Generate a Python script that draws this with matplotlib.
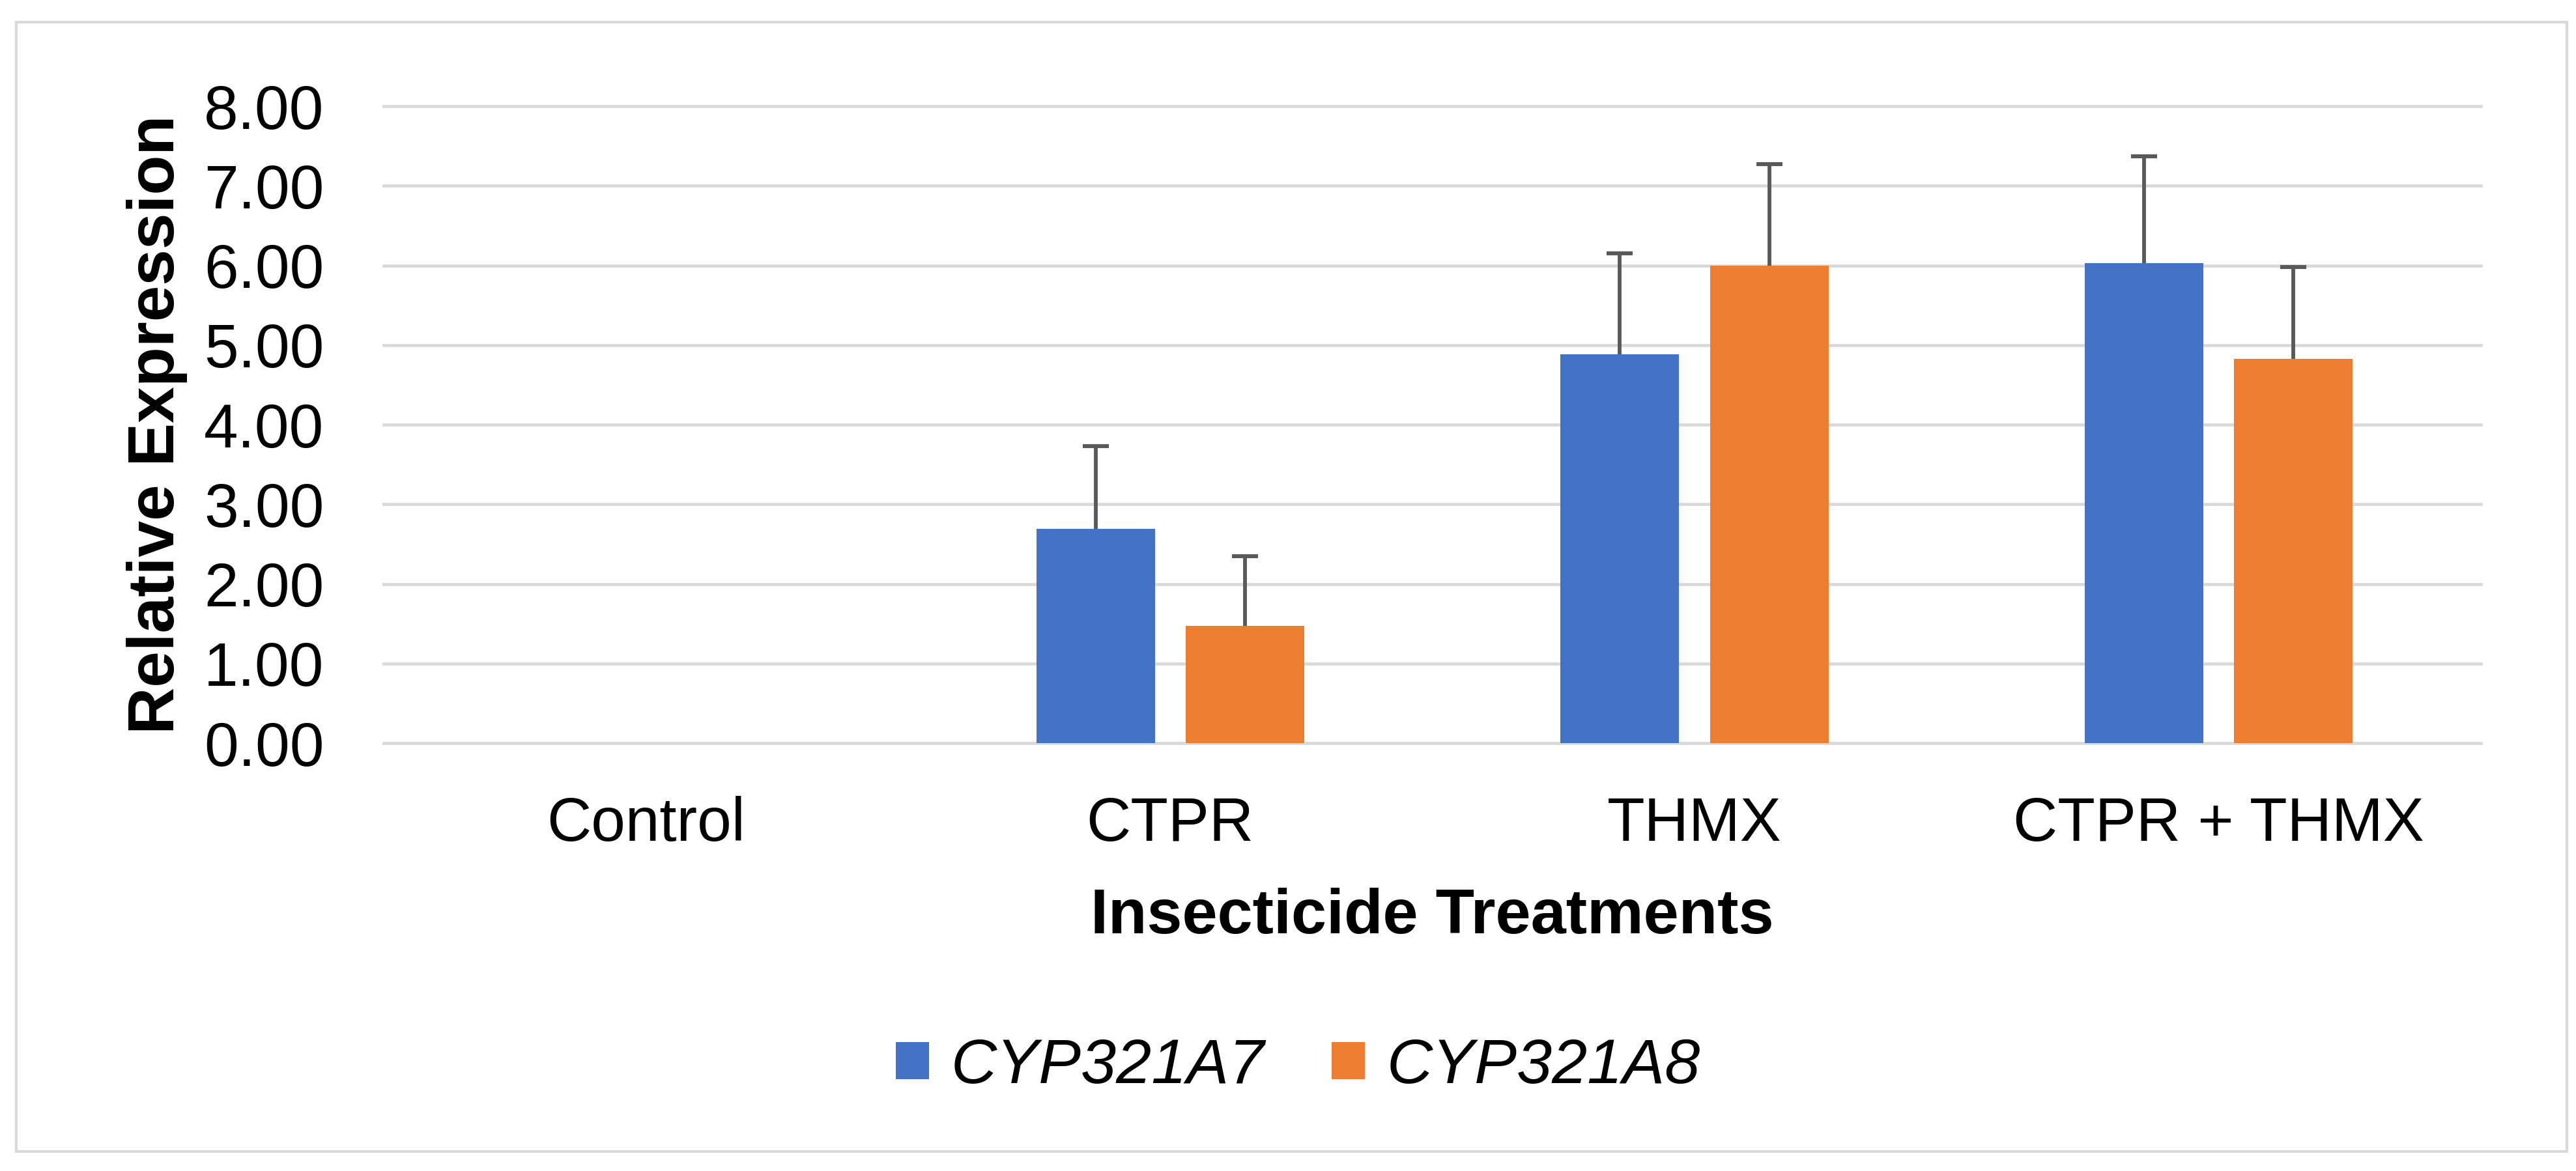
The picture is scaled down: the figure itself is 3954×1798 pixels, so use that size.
import numpy as np
import matplotlib.pyplot as plt
from matplotlib.patches import Patch, Rectangle

plt.rcParams['font.family'] = ['Liberation Sans', 'DejaVu Sans']

# dados
tratamentos = ['Control', 'CTPR', 'THMX', 'CTPR + THMX']
genes = ['CYP321A7', 'CYP321A8']
a7 = [0.0, 2.69, 4.88, 6.03]
a7_err = [0.0, 1.04, 1.27, 1.34]
a8 = [0.0, 1.47, 6.00, 4.83]
a8_err = [0.0, 0.88, 1.27, 1.15]

cores = ['#4472C4', '#ED7D31']
cinza = '#D9D9D9'

fig = plt.figure(figsize=(39.54, 17.98), dpi=100)
ax = fig.add_axes([0.149, 0.3654, 0.8141, 0.5439])

x = np.arange(len(tratamentos))
larg = 0.226
desl = 0.1425

for i, (vals, errs) in enumerate([(a7, a7_err), (a8, a8_err)]):
    pos = x + (i * 2 - 1) * desl
    ax.bar(pos, vals, width=larg, color=cores[i], zorder=3)
    vals = np.array(vals)
    errs = np.array(errs)
    m = errs > 0
    _, caps, _ = ax.errorbar(pos[m], vals[m], yerr=[np.zeros(m.sum()), errs[m]],
                             fmt='none', ecolor='#595959', elinewidth=4.2,
                             capsize=14.4, capthick=4.4, zorder=4)
    # so a barra de cima, sem a tampa de baixo
    for c in caps:
        if np.allclose(c.get_ydata(), vals[m]):
            c.set_visible(False)

ax.set_xlim(-0.5, 3.5)
ax.set_ylim(0, 8)
ax.set_yticks(np.arange(0, 9, 1))
ax.set_yticklabels(['%.2f' % v for v in np.arange(0, 9, 1)])
ax.set_xticks(x)
ax.set_xticklabels(tratamentos)
ax.tick_params(axis='both', length=0, labelsize=68)
ax.tick_params(axis='y', pad=66)
ax.tick_params(axis='x', pad=58)
ax.grid(axis='y', color=cinza, linewidth=3.4, zorder=0)
ax.set_axisbelow(True)
for s in ax.spines.values():
    s.set_visible(False)
for gl in ax.get_ygridlines():
    gl.set_clip_on(False)

ax.set_ylabel('Relative Expression', fontsize=72, fontweight='bold', labelpad=18)
ax.set_xlabel('Insecticide Treatments', fontsize=70, fontweight='bold', labelpad=38)

handles = [Patch(facecolor=cores[i], label=genes[i]) for i in range(2)]
fig.legend(handles=handles, loc='center', bbox_to_anchor=(0.504, 0.089), ncol=2,
           frameon=False, prop={'size': 70, 'style': 'italic'},
           handlelength=0.52, handleheight=0.52, handletextpad=0.35,
           columnspacing=1.06)

# moldura externa
fig.patches.append(Rectangle((25 / 3954, 1 - 1768 / 1798), (3940 - 25) / 3954,
                             (1768 - 34) / 1798, transform=fig.transFigure,
                             fill=False, edgecolor=cinza, linewidth=3))

fig.savefig('out.png', dpi=100, facecolor='white')
